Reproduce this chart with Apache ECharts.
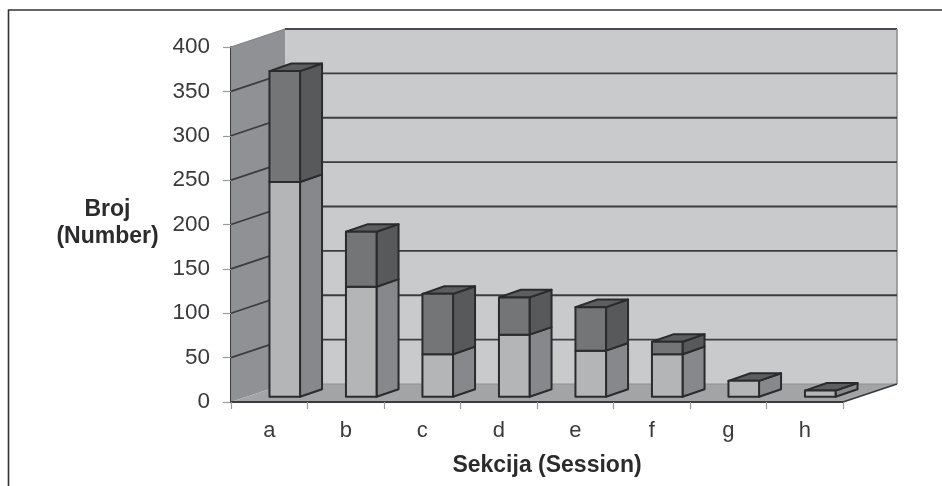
<!DOCTYPE html>
<html><head><meta charset="utf-8">
<style>html,body{margin:0;padding:0;background:#fff}#c{width:942px;height:486px}</style>
<script src="https://cdn.jsdelivr.net/npm/echarts@6/dist/echarts.min.js"></script>
</head><body><div id="c"></div>
<script>
const categories = ['a','b','c','d','e','f','g','h'];
const lowerValues = [242,124,48,70,52,48,18,7];
const upperValues = [125,62,68,42,49,14,0,0];
const yTicks = [0,50,100,150,200,250,300,350,400];

const FONT = '"Liberation Sans", Arial, sans-serif';
const DX = 54, DY = -18;          // depth of the floor
const BDX = 22, BDY = -7.6;       // depth of a bar
const OX = 15.5, OY = -5.2;       // where bars stand inside the depth
const LINE = '#2b2b2d';

function poly(points, fill, stroke, lw) {
  return {type:'polygon', shape:{points}, style:{fill, stroke: stroke||'none', lineWidth: lw==null?2:lw, lineJoin:'round'}};
}
function renderWalls(params, api) {
  const g = [];
  const tl = api.coord([0,400]), bl = api.coord([0,0]);
  const left = params.coordSys.x, bottom = bl[1], top = tl[1];
  const right = left + params.coordSys.width;
  g.push(poly([[left+DX,top+DY],[right+DX,top+DY],[right+DX,bottom+DY],[left+DX,bottom+DY]],'#c9cacc'));
  g.push(poly([[left,top],[left+DX,top+DY],[left+DX,bottom+DY],[left,bottom]],'#909194'));
  g.push(poly([[left,bottom],[left+DX,bottom+DY],[right+DX,bottom+DY],[right,bottom]],'#a3a4a6'));
  g.push({type:'polyline',shape:{points:[[left,top],[left+DX,top+DY]]},style:{fill:'none',stroke:'#808184',lineWidth:1.2}});
  g.push({type:'polyline',shape:{points:[[left+DX,top+DY],[right+DX,top+DY]]},style:{fill:'none',stroke:'#4a4a4c',lineWidth:1.8}});
  g.push({type:'polyline',shape:{points:[[right+DX,top+DY],[right+DX,bottom+DY]]},style:{fill:'none',stroke:'#8e8f91',lineWidth:1.6}});
  g.push({type:'polyline',shape:{points:[[left+DX,bottom+DY],[right+DX,bottom+DY]]},style:{fill:'none',stroke:'#8e8f91',lineWidth:1.2}});
  g.push({type:'polyline',shape:{points:[[right,bottom],[right+DX,bottom+DY]]},style:{fill:'none',stroke:'#3a3a3c',lineWidth:1.8}});
  yTicks.forEach(t => {
    if (t === 0 || t === 400) return;
    const y = api.coord([0,t])[1];
    g.push({type:'polyline',shape:{points:[[left,y],[left+DX,y+DY],[right+DX,y+DY]]},style:{fill:'none',stroke:'#3d3d40',lineWidth:1.8}});
  });
  return {type:'group',children:g};
}
function box(x0,x1,yb,yt,front,side,top,withTop){
  const c=[];
  c.push(poly([[x1,yb],[x1+BDX,yb+BDY],[x1+BDX,yt+BDY],[x1,yt]],side,LINE));
  if(withTop) c.push(poly([[x0,yt],[x0+BDX,yt+BDY],[x1+BDX,yt+BDY],[x1,yt]],top,LINE));
  c.push(poly([[x0,yb],[x1,yb],[x1,yt],[x0,yt]],front,LINE));
  return c;
}
function renderBars(params, api) {
  const idx = api.value(0);
  const lo = api.value(1), up = api.value(2);
  const p0 = api.coord([idx,0]), p1 = api.coord([idx,lo]), p2 = api.coord([idx,lo+up]);
  const w = api.size([1,0])[0]*0.4;
  const cx = p0[0]+OX;
  const x0 = cx-w/2, x1 = cx+w/2;
  const yb = p0[1]+OY, y1 = p1[1]+OY, y2 = p2[1]+OY;
  let c = [];
  c = c.concat(box(x0,x1,yb,y1,'#b4b5b7','#87888b','#5d5e60',up===0));
  if(up>0) c = c.concat(box(x0,x1,y1,y2,'#747577','#58595b','#5d5e60',true));
  return {type:'group',children:c};
}
const chart = echarts.init(document.getElementById('c'),null,{renderer:'canvas'});
chart.setOption({
  animation:false,
  backgroundColor:'#ffffff',
  grid:{left:231,right:99,top:47,bottom:84,containLabel:false},
  xAxis:{type:'category',data:categories,boundaryGap:true,
    axisLine:{show:true,lineStyle:{color:'#3a3a3c',width:2}},
    axisTick:{show:true,length:7,alignWithLabel:false,lineStyle:{color:'#9a9a9c',width:1.2}},
    axisLabel:{fontFamily:FONT,fontSize:22,color:'#3a3a3c',margin:18},
    splitLine:{show:false},z:5},
  yAxis:{type:'value',min:0,max:400,interval:50,
    axisLine:{show:true,lineStyle:{color:'#3a3a3c',width:2}},
    axisTick:{show:true,length:8,lineStyle:{color:'#9a9a9c',width:1.2}},
    axisLabel:{fontFamily:FONT,fontSize:22.5,color:'#3a3a3c',margin:21,padding:[7,0,0,0],formatter:v=>yTicks.includes(v)?String(v):''},
    splitLine:{show:false}},
  graphic:[
    {type:'polyline',shape:{points:[[8.5,486],[8.5,10],[942,10]]},style:{fill:'none',stroke:'#333335',lineWidth:1.6},z:1},
    {type:'text',x:107.5,y:210,style:{text:'Broj',font:'bold 23px '+FONT,fill:'#2b2b2d',textAlign:'center',textVerticalAlign:'middle'},z:10},
    {type:'text',x:107.5,y:237,style:{text:'(Number)',font:'bold 23px '+FONT,fill:'#2b2b2d',textAlign:'center',textVerticalAlign:'middle'},z:10},
    {type:'text',x:547,y:466,style:{text:'Sekcija (Session)',font:'bold 23px '+FONT,fill:'#2b2b2d',textAlign:'center',textVerticalAlign:'middle'},z:10}
  ],
  series:[
    {type:'custom',name:'walls',coordinateSystem:'cartesian2d',data:[[0,0]],renderItem:renderWalls,silent:true,z:1,clip:false},
    {type:'custom',name:'bars',coordinateSystem:'cartesian2d',
     encode:{x:0,y:[1,2]},
     data:categories.map((c,i)=>[i,lowerValues[i],upperValues[i]]),
     renderItem:renderBars,z:3,clip:false}
  ]
});
</script></body></html>
